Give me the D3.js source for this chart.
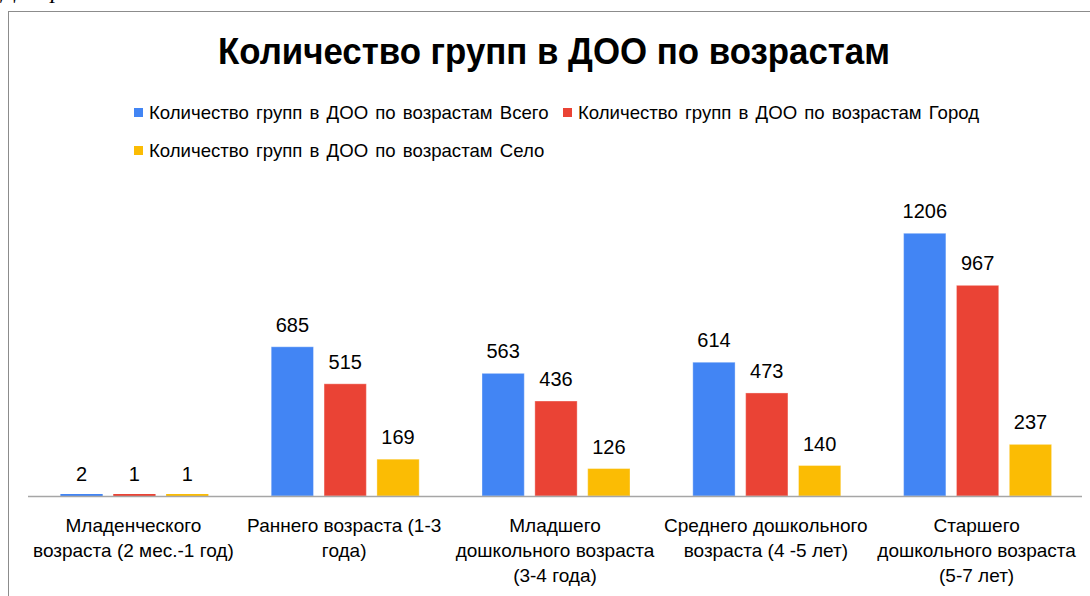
<!DOCTYPE html>
<html>
<head>
<meta charset="utf-8">
<script src="https://cdn.jsdelivr.net/npm/d3@7"></script>
<style>
  body { margin: 0; background: #fff; }
  svg { display: block; font-family: "Liberation Sans", Arial, sans-serif; }
</style>
</head>
<body>
<div class="container"></div>
<script>
const WIDTH = 1090;
const HEIGHT = 596;
const AXIS_LEFT = 28;
const AXIS_RIGHT = 1082;
const BASE_Y = 496;
const TOP_Y = 191;

// data
const categories = [
  "Младенческого возраста (2 мес.-1 год)",
  "Раннего возраста (1-3 года)",
  "Младшего дошкольного возраста (3-4 года)",
  "Среднего дошкольного возраста (4 -5 лет)",
  "Старшего дошкольного возраста (5-7 лет)"
];
const tickLines = [
  ["Младенческого", "возраста (2 мес.-1 год)"],
  ["Раннего возраста (1-3", "года)"],
  ["Младшего", "дошкольного возраста", "(3-4 года)"],
  ["Среднего дошкольного", "возраста (4 -5 лет)"],
  ["Старшего", "дошкольного возраста", "(5-7 лет)"]
];
const seriesNames = [
  "Количество групп в ДОО по возрастам Всего",
  "Количество групп в ДОО по возрастам Город",
  "Количество групп в ДОО по возрастам Село"
];
const totalValues = [2, 685, 563, 614, 1206];
const cityValues = [1, 515, 436, 473, 967];
const villageValues = [1, 169, 126, 140, 237];
const colors = ["#4285f4", "#ea4335", "#fbbc04"];

const seriesValues = [totalValues, cityValues, villageValues];

var translate = function(x, y){
    return "translate(" + x + "," + y + ")";
};

var svg = d3.select('.container').append('svg')
    .attr('width', WIDTH)
    .attr('height', HEIGHT);

// partial caption cut off at top of page
svg.append('text')
    .attr('x', 2)
    .attr('y', -2)
    .style('font-family', '"Liberation Serif", "Times New Roman", serif')
    .style('font-style', 'italic')
    .style('font-size', '24px')
    .attr('fill', '#000')
    .text('Диаграмма');

// frame
svg.append('rect')
    .attr('x', 8.5)
    .attr('y', 11.5)
    .attr('width', 1200)
    .attr('height', 800)
    .attr('fill', 'none')
    .attr('stroke', '#8c8c8c')
    .attr('stroke-width', 1);

// title
svg.append('text')
    .attr('x', 218)
    .attr('y', 64)
    .attr('textLength', 672)
    .attr('lengthAdjust', 'spacingAndGlyphs')
    .style('font-size', '37px')
    .style('font-weight', 'bold')
    .attr('fill', '#000')
    .text('Количество групп в ДОО по возрастам');

// legend
var legendPos = [{x: 134, y: 119}, {x: 563, y: 119}, {x: 134, y: 157}];
var legend = svg.append('g').selectAll('g')
    .data(seriesNames)
    .enter()
    .append('g')
    .attr('transform', function(d, i){ return translate(legendPos[i].x, legendPos[i].y); });

legend.append('rect')
    .attr('x', 0)
    .attr('y', -11)
    .attr('width', 9)
    .attr('height', 9)
    .attr('fill', function(d, i){ return colors[i]; });

legend.append('text')
    .attr('x', 15)
    .attr('y', 0)
    .style('font-size', '18.6px')
    .style('word-spacing', '2px')
    .attr('fill', '#000')
    .text(function(d){ return d; });

// scales
var x0 = d3.scaleBand()
    .domain(categories)
    .range([AXIS_LEFT, AXIS_RIGHT])
    .padding(0);

var groupWidth = 148;
var x1 = d3.scaleBand()
    .domain(d3.range(seriesNames.length))
    .range([0, groupWidth])
    .paddingInner(0.2);

var yScale = d3.scaleLinear()
    .domain([0, 1400])
    .range([BASE_Y, TOP_Y]);

var groupOffset = x0.bandwidth() / 2 - groupWidth / 2 + 1;

// bars
var groups = svg.append('g').selectAll('g')
    .data(categories)
    .enter()
    .append('g')
    .attr('transform', function(d){ return translate(x0(d) + groupOffset, 0); });

var barData = function(d, ci){
    return seriesValues.map(function(vals, si){ return {s: si, v: vals[ci]}; });
};

groups.selectAll('rect')
    .data(barData)
    .enter()
    .append('rect')
    .attr('x', function(d){ return x1(d.s); })
    .attr('y', function(d){ return Math.min(yScale(d.v), BASE_Y - 2); })
    .attr('width', x1.bandwidth())
    .attr('height', function(d){ return Math.max(BASE_Y - yScale(d.v), 2); })
    .attr('fill', function(d){ return colors[d.s]; })
    .attr('stroke', function(d){ return d.v > 20 ? 'rgba(255,255,255,0.35)' : 'none'; })
    .attr('stroke-width', 1);

groups.selectAll('text')
    .data(barData)
    .enter()
    .append('text')
    .attr('x', function(d){ return x1(d.s) + x1.bandwidth() / 2; })
    .attr('y', function(d){ return yScale(d.v) - 15; })
    .attr('text-anchor', 'middle')
    .style('font-size', '20px')
    .attr('fill', '#000')
    .text(function(d){ return d.v; });

// x axis
var xAxis = d3.axisBottom(x0).tickSize(0).tickFormat('');
var axisG = svg.append('g')
    .attr('transform', translate(0, BASE_Y))
    .call(xAxis);

axisG.select('.domain')
    .attr('d', 'M' + AXIS_LEFT + ',0.5H' + AXIS_RIGHT)
    .attr('stroke', '#a6a6a6')
    .attr('stroke-width', 1.5);

axisG.selectAll('.tick text')
    .attr('y', 0)
    .attr('dy', null)
    .style('font-size', '19px')
    .style('font-family', '"Liberation Sans", Arial, sans-serif')
    .attr('fill', '#000')
    .each(function(d, i){
        var t = d3.select(this);
        tickLines[i].forEach(function(line, j){
            t.append('tspan')
                .attr('x', 0)
                .attr('y', 36 + j * 25)
                .text(line);
        });
    });
</script>
</body>
</html>
